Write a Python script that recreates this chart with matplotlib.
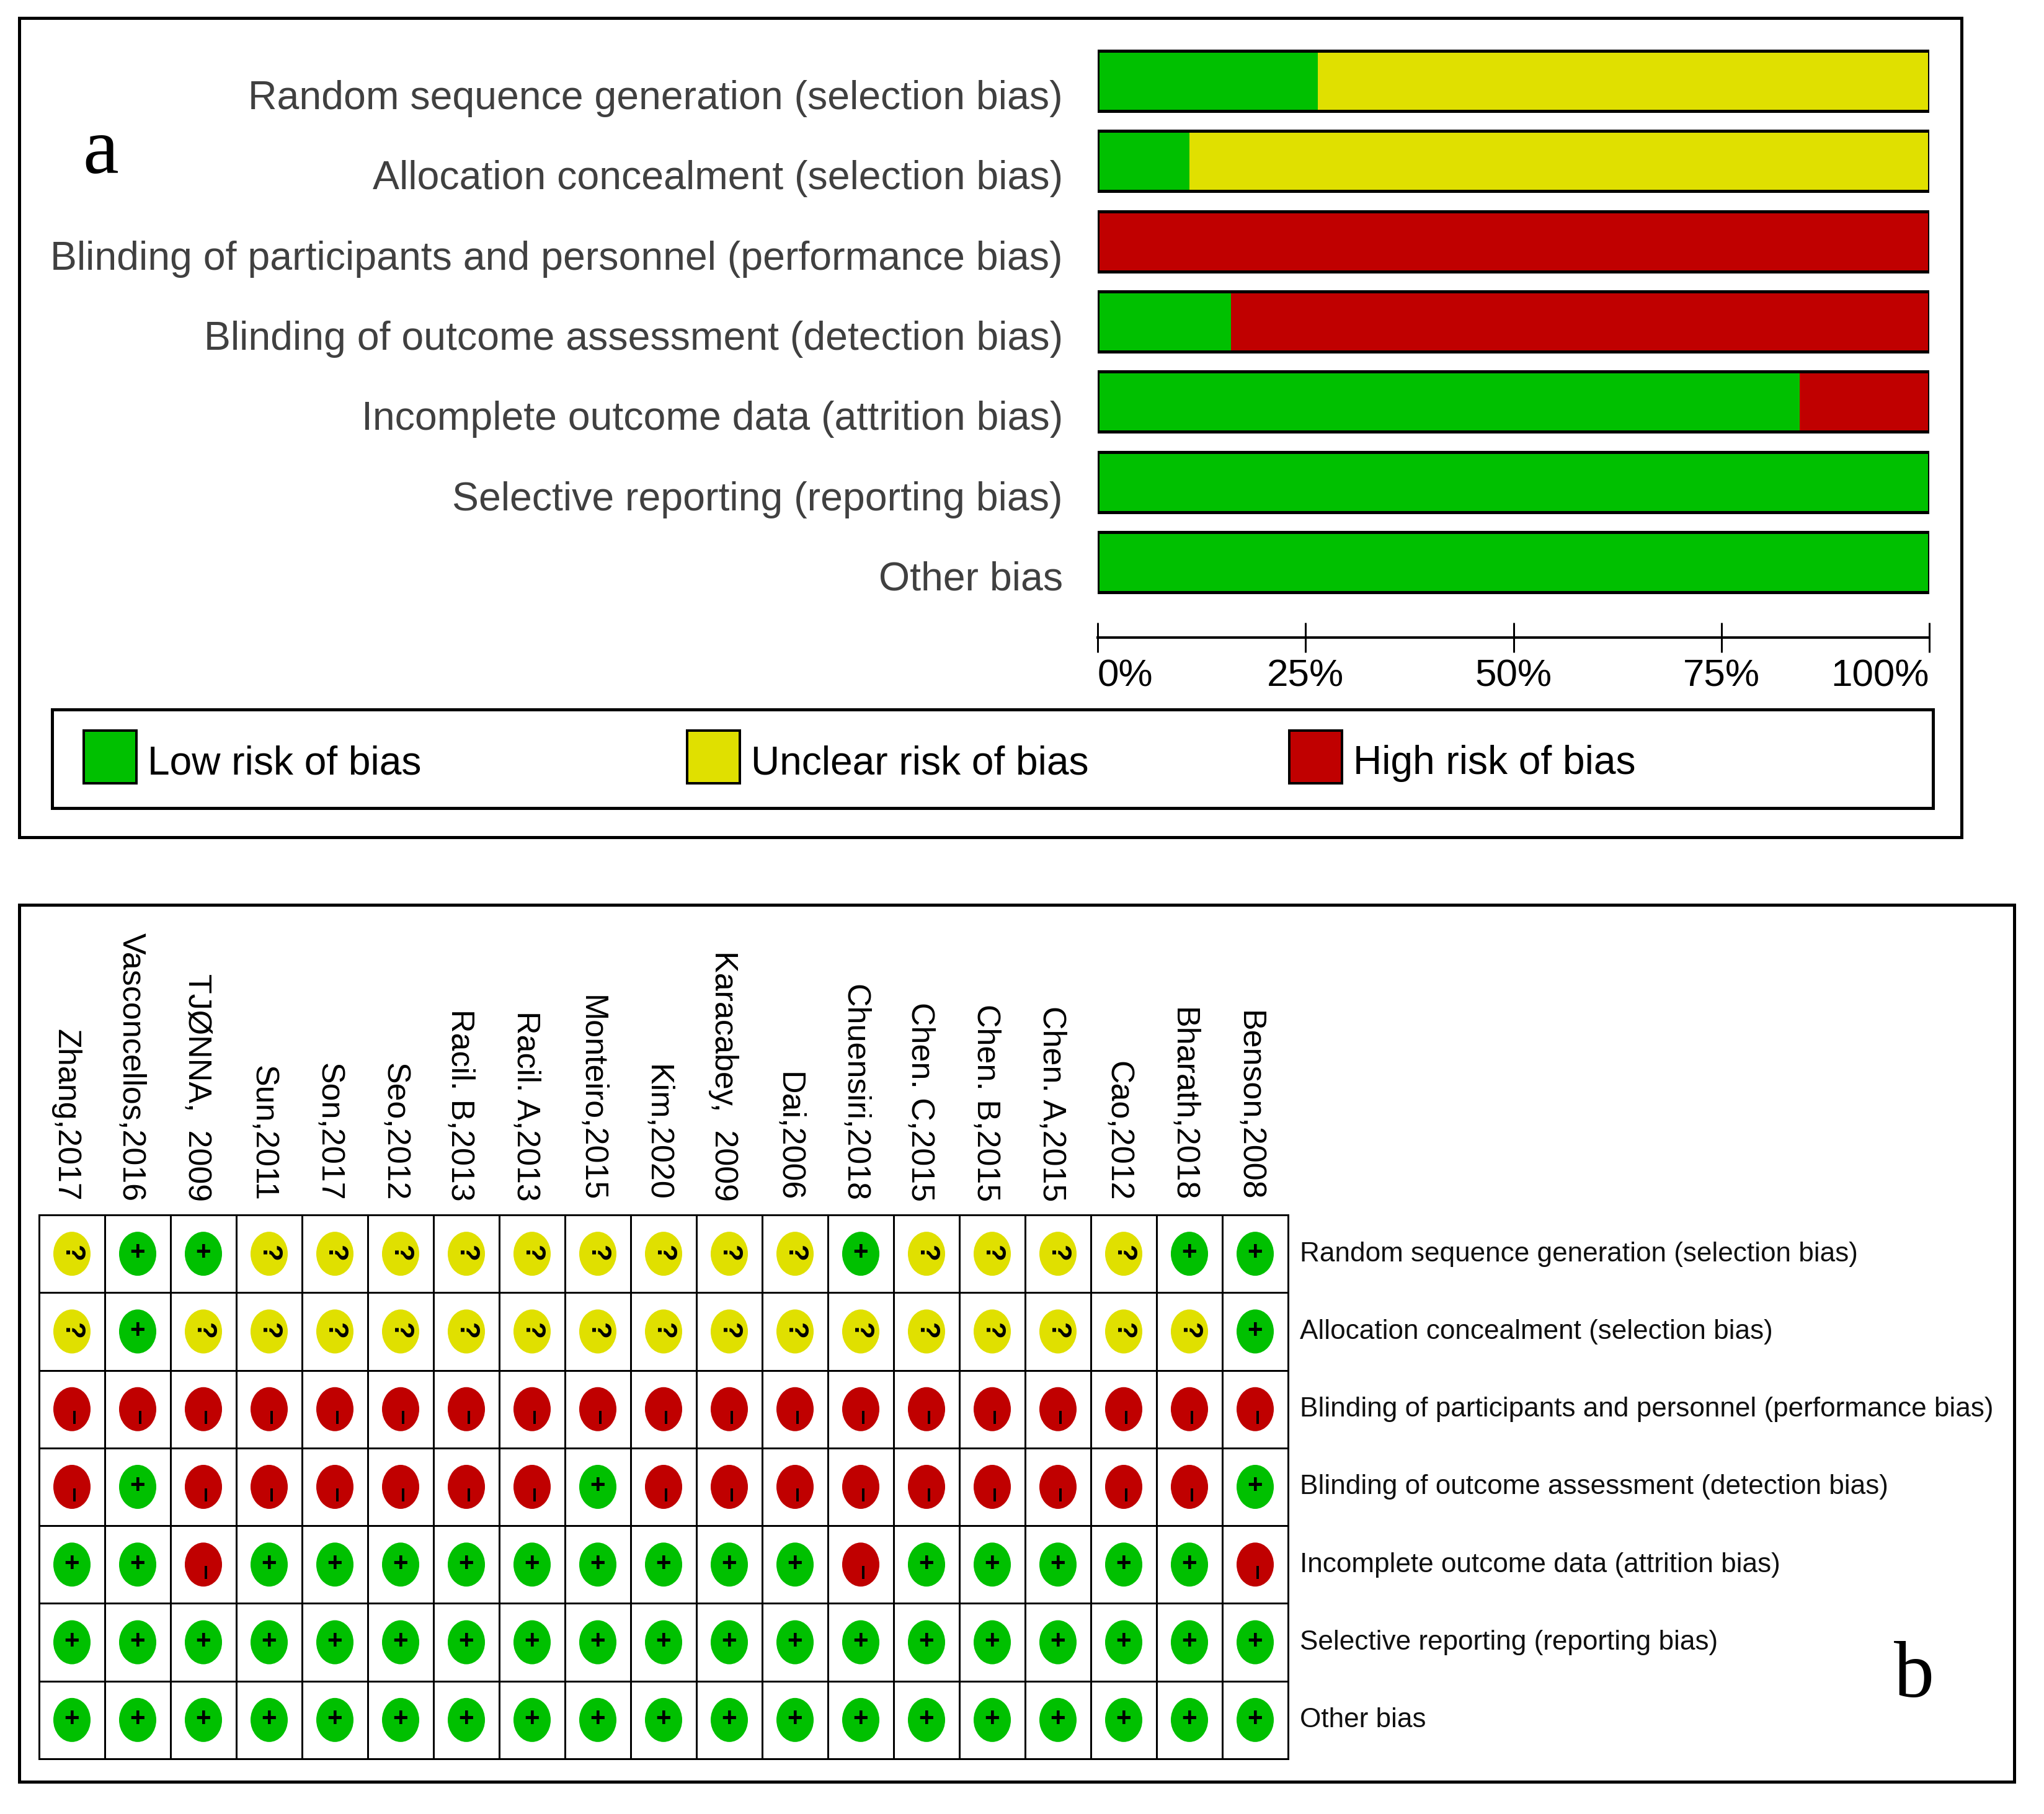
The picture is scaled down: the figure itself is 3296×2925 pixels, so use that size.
import numpy as np
import matplotlib
matplotlib.use("Agg")
import matplotlib.pyplot as plt
from matplotlib.patches import Ellipse, Rectangle
from matplotlib.transforms import ScaledTranslation

# ukuran gambar dalam piksel
W, H = 3296, 2925
DPI = 100

domains = [
    "Random sequence generation (selection bias)",
    "Allocation concealment (selection bias)",
    "Blinding of participants and personnel (performance bias)",
    "Blinding of outcome assessment (detection bias)",
    "Incomplete outcome data (attrition bias)",
    "Selective reporting (reporting bias)",
    "Other bias",
]

# persen per domain
low_risk = [26.5, 11, 0, 16, 84.4, 100, 100]
unclear_risk = [73.5, 89, 0, 0, 0, 0, 0]
high_risk = [0, 0, 100, 84, 15.6, 0, 0]

x_ticks = [0, 25, 50, 75, 100]
x_tick_labels = ["0%", "25%", "50%", "75%", "100%"]
legend_labels = ["Low risk of bias", "Unclear risk of bias", "High risk of bias"]

studies = [
    "Zhang,2017", "Vasconcellos,2016", "TJØNNA,  2009", "Sun,2011", "Son,2017",
    "Seo,2012", "Racil. B,2013", "Racil. A,2013", "Monteiro,2015", "Kim,2020",
    "Karacabey,  2009", "Dai,2006", "Chuensiri,2018", "Chen. C,2015",
    "Chen. B,2015", "Chen. A,2015", "Cao,2012", "Bharath,2018", "Benson,2008",
]

# satu baris per domain, satu huruf per studi
judgement_random = "?++?????????+????++"
judgement_alloc = "?+????????????????+"
judgement_part = "-------------------"
judgement_outcome = "-+------+---------+"
judgement_incomplete = "++-+++++++++-+++++-"
judgement_selective = "+++++++++++++++++++"
judgement_other = "+++++++++++++++++++"
judgements = [judgement_random, judgement_alloc, judgement_part, judgement_outcome,
              judgement_incomplete, judgement_selective, judgement_other]

GREEN = "#00C000"
YELLOW = "#E0E000"
RED = "#C00000"
fills = {"+": GREEN, "?": YELLOW, "-": RED}

plt.rcParams["font.family"] = ["Liberation Sans", "DejaVu Sans"]


def px(v):
    # piksel ke point
    return v * 72 / DPI


def box(x, y, w, h):
    # posisi axes dari piksel (y dari atas)
    return [x / W, 1 - (y + h) / H, w / W, h / H]


def shift(label, dx, dy):
    # geser label dalam piksel
    label.set_transform(label.get_transform() + ScaledTranslation(dx / DPI, dy / DPI, fig.dpi_scale_trans))


fig = plt.figure(figsize=(W / DPI, H / DPI), dpi=DPI)


def frame(x0, y0, x1, y1, lw=5, **kw):
    fig.add_artist(Rectangle((x0 / W, 1 - y1 / H), (x1 - x0) / W, (y1 - y0) / H,
                             transform=fig.transFigure, fill=False,
                             edgecolor="black", linewidth=px(lw), **kw))


frame(31, 29, 3163, 1350)
frame(31, 1459, 3248, 2873)
frame(84, 1144, 3117, 1303)

# Panel a
ax = fig.add_axes(box(1770, 66, 1341, 905))
y = np.arange(len(domains))
low = np.array(low_risk)
unclear = np.array(unclear_risk)
high = np.array(high_risk)
bar_h = 0.75
ax.barh(y, low, height=bar_h, color=GREEN)
ax.barh(y, unclear, left=low, height=bar_h, color=YELLOW)
ax.barh(y, high, left=low + unclear, height=bar_h, color=RED)
ax.barh(y, low + unclear + high, height=bar_h, fill=False, edgecolor="black", linewidth=px(5))
ax.set_xlim(0, 100)
ax.set_ylim(len(domains) - 0.5, -0.5)
for s in ["top", "left", "right"]:
    ax.spines[s].set_visible(False)
ax.spines["bottom"].set_position(("outward", px(57)))
ax.spines["bottom"].set_linewidth(px(4))
ax.set_xticks(x_ticks)
ax.set_xticklabels(x_tick_labels, fontsize=px(62))
ax.tick_params(axis="x", direction="inout", length=px(47), width=px(3), pad=px(11))
xlabels = ax.get_xticklabels()
xlabels[0].set_ha("left")
xlabels[-1].set_ha("right")
ax.set_yticks(y)
ax.set_yticklabels(domains, fontsize=px(64.4), color="#404040")
ax.tick_params(axis="y", length=0, pad=px(56))
for lab in ax.get_yticklabels():
    shift(lab, 0, -22)
fig.text(133 / W, 1 - 279 / H, "a", family="Liberation Serif", fontsize=px(130), va="baseline")

# legend panel a
for sx, tx, color, label in zip([135, 1108, 2079], [238, 1211, 2182], [GREEN, YELLOW, RED], legend_labels):
    fig.add_artist(Rectangle((sx / W, 1 - 1263 / H), 85 / W, 85 / H, transform=fig.transFigure,
                             facecolor=color, edgecolor="black", linewidth=px(4)))
    fig.text(tx / W, 1 - 1248 / H, label, fontsize=px(64), va="baseline", color="black")

# Panel b
bx = fig.add_axes(box(63, 1959, 2014, 877))
bx.set_xlim(0, len(studies))
bx.set_ylim(len(domains), 0)
bx.set_xticks(np.arange(len(studies)) + 0.5)
bx.set_xticklabels(studies, rotation=270, fontsize=px(52), ha="center", va="bottom")
bx.set_yticks(np.arange(len(domains)) + 0.5)
bx.set_yticklabels(domains, fontsize=px(44.2), color="#101010")
bx.xaxis.tick_top()
bx.yaxis.tick_right()
bx.tick_params(axis="x", length=0, pad=px(22))
bx.tick_params(axis="y", length=0, pad=px(19))
bx.set_xticks(np.arange(len(studies) + 1), minor=True)
bx.set_yticks(np.arange(len(domains) + 1), minor=True)
bx.tick_params(which="minor", length=0)
bx.grid(which="minor", color="black", linewidth=px(3))
bx.set_axisbelow(True)
for s in bx.spines.values():
    s.set_linewidth(px(3))
for lab in bx.get_xticklabels():
    shift(lab, -10, 0)
for lab in bx.get_yticklabels():
    shift(lab, 0, 4)

cell_w = 106
cell_h = 125.3
ew = 60 / cell_w
eh = 71 / cell_h
for r, row in enumerate(judgements):
    for c, mark in enumerate(row):
        bx.add_patch(Ellipse((c + 0.5, r + 0.5), ew, eh, facecolor=fills[mark], edgecolor="none", zorder=3))
        if mark == "+":
            bx.text(c + 0.5, r + 0.49, "+", ha="center", va="center", fontsize=px(42),
                    fontweight="bold", color="black", zorder=4)
        elif mark == "?":
            bx.text(c + 0.5, r + 0.49, "?", ha="center", va="center", fontsize=px(44), rotation=270,
                    fontweight="bold", color="black", zorder=4)
        else:
            bx.plot(c + 0.5 + 3.7 / cell_w, r + 0.5 + 12.7 / cell_h, marker="|", markersize=px(21),
                    markeredgewidth=px(4), color="black", zorder=4)
fig.text(3054 / W, 1 - 2736 / H, "b", family="Liberation Serif", fontsize=px(130), va="baseline")

fig.savefig("out.png", dpi=DPI)
